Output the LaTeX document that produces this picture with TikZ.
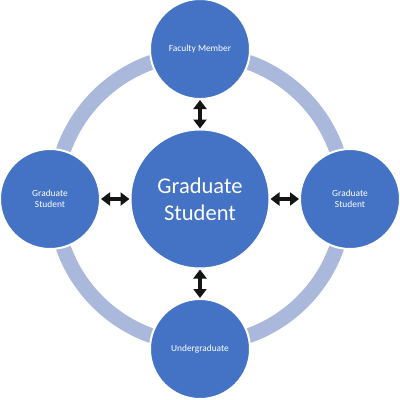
\documentclass[tikz,border=0pt]{standalone}
\usepackage{fontspec}
\setmainfont{Carlito}
\usetikzlibrary{arrows.meta}
\definecolor{cblue}{HTML}{4472C4}
\definecolor{ringc}{HTML}{AAB8DC}
\begin{document}
\begin{tikzpicture}[x=1pt,y=-1pt,
  sat/.style={circle,fill=cblue,draw=white,line width=2pt,minimum size=100pt,inner sep=0pt,text=white,font=\fontsize{9.4}{11}\selectfont,align=center},
  hub/.style={circle,fill=cblue,draw=white,line width=2pt,minimum size=139pt,inner sep=0pt,text=white,font=\fontsize{22.5}{27}\selectfont,align=center},
  link/.style={{Triangle[width=13pt,length=9pt]}-{Triangle[width=13pt,length=9pt]},line width=3.2pt,black!92}]
\useasboundingbox (0,0) rectangle (400,400);
\fill[white] (0,0) rectangle (400,400);
\coordinate (c) at (200,199);
\draw[ringc,line width=15pt] (c) circle[radius=145];
\node[hub] (center) at (c) {Graduate\\Student};
\node[sat] (top) at (200,49) {Faculty Member};
\node[sat] (left) at (50,199) {Graduate\\Student};
\node[sat] (right) at (350,199) {Graduate\\Student};
\node[sat] (bottom) at (200,349) {Undergraduate};
\draw[link] (top.south) -- (center.north);
\draw[link] (bottom.north) -- (center.south);
\draw[link] (left.east) -- (center.west);
\draw[link] (right.west) -- (center.east);
\end{tikzpicture}
\end{document}
